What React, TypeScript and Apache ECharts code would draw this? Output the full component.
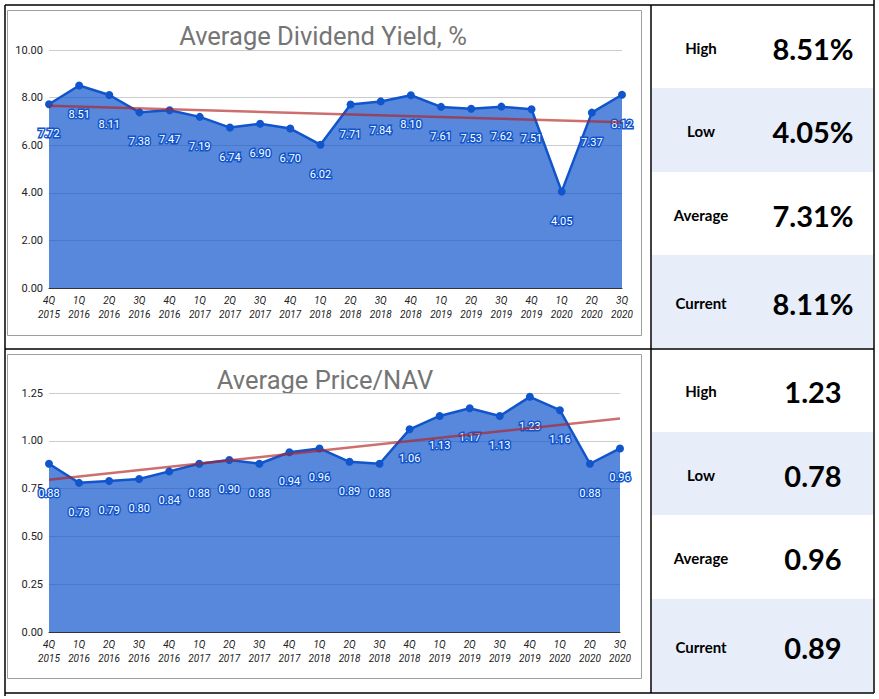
import React, { useEffect, useRef } from "react";
import * as echarts from "echarts";

const categories = [
  "4Q\n2015", "1Q\n2016", "2Q\n2016", "3Q\n2016", "4Q\n2016",
  "1Q\n2017", "2Q\n2017", "3Q\n2017", "4Q\n2017", "1Q\n2018",
  "2Q\n2018", "3Q\n2018", "4Q\n2018", "1Q\n2019", "2Q\n2019",
  "3Q\n2019", "4Q\n2019", "1Q\n2020", "2Q\n2020", "3Q\n2020",
];
const dividendYield = [7.72, 8.51, 8.11, 7.38, 7.47, 7.19, 6.74, 6.9, 6.7, 6.02, 7.71, 7.84, 8.1, 7.61, 7.53, 7.62, 7.51, 4.05, 7.37, 8.12];
const priceNav = [0.88, 0.78, 0.79, 0.8, 0.84, 0.88, 0.9, 0.88, 0.94, 0.96, 0.89, 0.88, 1.06, 1.13, 1.17, 1.13, 1.23, 1.16, 0.88, 0.96];

const statLabels = ["High", "Low", "Average", "Current"];
const yieldStats = ["8.51%", "4.05%", "7.31%", "8.11%"];
const navStats = ["1.23", "0.78", "0.96", "0.89"];

const titles = ["Average Dividend Yield, %", "Average Price/NAV"];

function linearFit(vals: number[]) {
  const n = vals.length;
  let sx = 0, sy = 0, sxx = 0, sxy = 0;
  vals.forEach((v, i) => { sx += i; sy += v; sxx += i * i; sxy += i * v; });
  const b = (n * sxy - sx * sy) / (n * sxx - sx * sx);
  const a = (sy - b * sx) / n;
  return [a, b];
}

const BLUE = "#1155cc";

function makeSeries(vals: number[], idx: number) {
  const [a, b] = linearFit(vals);
  const last = vals.length - 1;
  return {
    type: "line",
    xAxisIndex: idx,
    yAxisIndex: idx,
    data: vals,
    symbol: "circle",
    symbolSize: 8,
    itemStyle: { color: BLUE },
    lineStyle: { color: BLUE, width: 2.5 },
    areaStyle: { color: BLUE, opacity: 0.7 },
    label: {
      show: true,
      position: "bottom",
      distance: 20,
      color: "#ffffff",
      textBorderColor: BLUE,
      textBorderWidth: 3,
      fontSize: 11,
      fontFamily: "Roboto",
      formatter: (p: any) => p.value.toFixed(2),
    },
    markLine: {
      silent: true,
      symbol: "none",
      label: { show: false },
      lineStyle: { color: "#b22222", opacity: 0.65, width: 2.5, type: "solid" },
      data: [[{ coord: [0, a] }, { coord: [last, a + b * last] }]],
    },
  };
}

export default function App() {
  const ref = useRef<HTMLDivElement>(null);
  useEffect(() => {
    const chart = echarts.init(ref.current!, null, { renderer: "svg" });
    const axisLabelX = {
      interval: 0,
      fontSize: 10,
      fontStyle: "italic",
      fontFamily: "Roboto",
      color: "#222",
      lineHeight: 14,
      margin: 5,
    };
    const xAxisBase = {
      type: "category",
      data: categories,
      boundaryGap: false,
      axisTick: { show: false },
      axisLine: { show: true, lineStyle: { color: "#333", width: 1 } },
      axisLabel: axisLabelX,
      splitLine: { show: false },
    };
    const yAxisBase = (max: number, interval: number) => ({
      type: "value",
      min: 0,
      max,
      interval,
      axisLine: { show: false },
      axisTick: { show: false },
      axisLabel: {
        fontSize: 11,
        fontFamily: "Roboto",
        color: "#222",
        margin: 6,
        formatter: (v: number) => v.toFixed(2),
      },
      splitLine: { show: true, lineStyle: { color: "#cccccc", width: 1 } },
    });

    const graphics: any[] = [];
    const bands = [[88, 172], [255, 348], [432, 515], [599, 692]];
    bands.forEach(([y0, y1]) => {
      graphics.push({ type: "rect", shape: { x: 652, y: y0, width: 221, height: y1 - y0 }, style: { fill: "#e8eef9" }, silent: true });
    });
    graphics.push({ type: "rect", shape: { x: 7.5, y: 10.5, width: 634, height: 325 }, style: { fill: "none", stroke: "#9e9e9e", lineWidth: 1 } });
    graphics.push({ type: "rect", shape: { x: 7.5, y: 354.5, width: 634, height: 324 }, style: { fill: "none", stroke: "#9e9e9e", lineWidth: 1 } });
    const blk = { stroke: "#000", lineWidth: 1.5 };
    graphics.push({ type: "line", shape: { x1: 5, y1: 5, x2: 874, y2: 5 }, style: blk });
    graphics.push({ type: "line", shape: { x1: 5, y1: 349, x2: 874, y2: 349 }, style: blk });
    graphics.push({ type: "line", shape: { x1: 5, y1: 693, x2: 874, y2: 693 }, style: blk });
    graphics.push({ type: "line", shape: { x1: 5, y1: 5, x2: 5, y2: 696 }, style: blk });
    graphics.push({ type: "line", shape: { x1: 651, y1: 5, x2: 651, y2: 693 }, style: blk });
    graphics.push({ type: "line", shape: { x1: 874, y1: 0, x2: 874, y2: 693 }, style: blk });
    graphics.push({ type: "text", x: 323, y: 36, style: { text: titles[0], align: "center", verticalAlign: "middle", fontSize: 25.5, fontFamily: "Roboto", fill: "#757575" } });
    graphics.push({ type: "text", x: 325, y: 380, style: { text: titles[1], align: "center", verticalAlign: "middle", fontSize: 25.5, fontFamily: "Roboto", fill: "#757575" } });
    const rowYTop = [48, 131, 215, 303];
    const rowYBot = [391, 475, 558, 647];
    statLabels.forEach((lab, i) => {
      [rowYTop[i], rowYBot[i]].forEach((y) => {
        graphics.push({ type: "text", x: 701, y, style: { text: lab, align: "center", verticalAlign: "middle", fontSize: 15, fontWeight: "bold", fontFamily: "Lato", fill: "#000" } });
      });
      graphics.push({ type: "text", x: 813, y: rowYTop[i], style: { text: yieldStats[i], align: "center", verticalAlign: "middle", fontSize: 29, fontWeight: "bold", fontFamily: "Lato", fill: "#000" } });
      graphics.push({ type: "text", x: 813, y: rowYBot[i], style: { text: navStats[i], align: "center", verticalAlign: "middle", fontSize: 29, fontWeight: "bold", fontFamily: "Lato", fill: "#000" } });
    });

    chart.setOption({
      animation: false,
      backgroundColor: "#ffffff",
      grid: [
        { left: 49, right: 257, top: 50, bottom: 411 },
        { left: 49, right: 259, top: 393, bottom: 67 },
      ],
      xAxis: [
        { ...xAxisBase, gridIndex: 0 },
        { ...xAxisBase, gridIndex: 1 },
      ],
      yAxis: [
        { ...yAxisBase(10, 2), gridIndex: 0 },
        { ...yAxisBase(1.25, 0.25), gridIndex: 1 },
      ],
      series: [makeSeries(dividendYield, 0), makeSeries(priceNav, 1)],
      graphic: graphics,
    });
    return () => chart.dispose();
  }, []);
  return (
    <div
      ref={ref}
      style={{ position: "fixed", left: 0, top: 0, width: 879, height: 699, background: "#fff" }}
    />
  );
}
